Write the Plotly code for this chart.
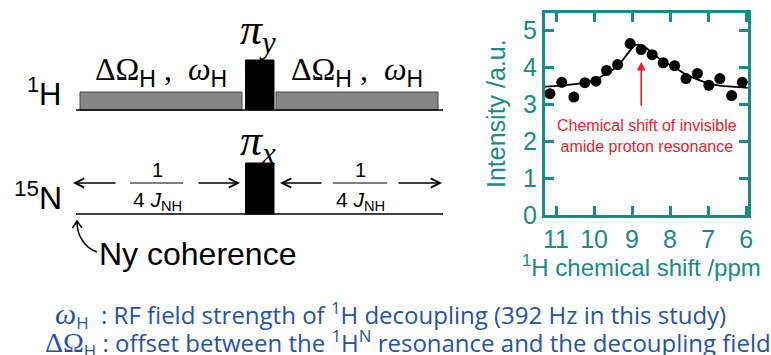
import plotly.graph_objects as go

W, H = 771, 355

# ---- data ----
shift_ppm = [11.16, 10.85, 10.53, 10.24, 9.95, 9.67, 9.38, 9.05, 8.76,
             8.47, 8.18, 7.88, 7.58, 7.28, 6.98, 6.69, 6.38, 6.10]
intensity = [3.29, 3.60, 3.20, 3.59, 3.63, 3.92, 4.08, 4.65, 4.49,
             4.35, 4.13, 4.05, 3.70, 3.84, 3.52, 3.70, 3.24, 3.60]
fit_ppm = [11.29, 10.87, 10.24, 9.95, 9.67, 9.38, 9.10, 8.95, 8.85, 8.70,
           8.45, 8.18, 7.87, 7.58, 7.28, 6.98, 6.69, 6.37, 5.96]
fit_int = [3.48, 3.51, 3.59, 3.68, 3.84, 4.04, 4.40, 4.58, 4.62, 4.58,
           4.38, 4.17, 4.00, 3.81, 3.68, 3.57, 3.51, 3.48, 3.45]
x_ticks = [11, 10, 9, 8, 7, 6]
y_ticks = [0, 1, 2, 3, 4, 5]
peak_ppm = 8.76
arrow_from, arrow_to = 2.92, 4.16
note_text = "Chemical shift of invisible<br>amide proton resonance"

TEAL = "#1a8a85"
RED = "#e8232b"
BLUE = "#2553a2"
SANS = "Liberation Sans, Arial, sans-serif"
SERIF = "Liberation Serif, Times New Roman, serif"


def px(x):
    return x / W


def py(y):
    return 1 - y / H


fig = go.Figure()
fig.add_trace(go.Scatter(x=fit_ppm, y=fit_int, mode="lines",
                         line=dict(color="black", width=1.8, shape="spline"),
                         showlegend=False, hoverinfo="skip"))
fig.add_trace(go.Scatter(x=shift_ppm, y=intensity, mode="markers",
                         marker=dict(color="black", size=11),
                         showlegend=False))

axis_common = dict(showline=True, linecolor=TEAL, linewidth=3, mirror="ticks",
                   ticks="inside", ticklen=9, tickwidth=3, tickcolor=TEAL,
                   showgrid=False, zeroline=False, automargin=False,
                   tickfont=dict(family=SANS, size=25, color=TEAL),
                   fixedrange=True)

fig.update_layout(
    template="none",
    width=W, height=H,
    margin=dict(l=0, r=0, t=0, b=0, autoexpand=False),
    paper_bgcolor="white", plot_bgcolor="white",
    xaxis=dict(domain=[545 / W, 748 / W], range=[11.29, 5.95],
               tickvals=x_ticks, **axis_common),
    yaxis=dict(domain=[1 - 215 / H, 1 - 13 / H], range=[0, 5.48],
               tickvals=y_ticks, **axis_common),
)


def text(x, y, s, size, family=SANS, color="black", xanchor="center",
         angle=0):
    fig.add_annotation(x=px(x), y=py(y), xref="paper", yref="paper", text=s,
                       showarrow=False, xanchor=xanchor, yanchor="middle",
                       textangle=angle,
                       font=dict(family=family, size=size, color=color))


# axis titles
text(641, 266, "<sup>1</sup>H chemical shift /ppm", 24, SANS, TEAL)
text(496, 114, "Intensity /a.u.", 25, SANS, TEAL, angle=-90)

# red arrow + note in the chart
fig.add_annotation(x=peak_ppm, y=arrow_to, ax=peak_ppm, ay=arrow_from,
                   axref="x", ayref="y", xref="x", yref="y", text="",
                   showarrow=True, arrowhead=2, arrowsize=1.1, arrowwidth=1.6,
                   arrowcolor=RED)
fig.add_annotation(x=8.61, y=2.14, xref="x", yref="y", text=note_text,
                   xanchor="center", yanchor="middle",
                   showarrow=False, font=dict(family=SANS, size=16, color=RED))

# ---- pulse sequence diagram (paper coordinates) ----
shapes = []


def line(x0, y0, x1, y1, w=1.5, color="black"):
    shapes.append(dict(type="line", xref="paper", yref="paper",
                       x0=px(x0), y0=py(y0), x1=px(x1), y1=py(y1),
                       line=dict(color=color, width=w)))


def rect(x0, y0, x1, y1, fill, lc="black", lw=1):
    shapes.append(dict(type="rect", xref="paper", yref="paper",
                       x0=px(x0), y0=py(y0), x1=px(x1), y1=py(y1),
                       fillcolor=fill, line=dict(color=lc, width=lw)))


rect(80, 92, 242, 110, "#868686", "#444444", 1)
rect(276, 92, 438, 110, "#868686", "#444444", 1)
rect(245.5, 60, 274, 110, "black", "black", 1)
rect(245.5, 163, 274, 214, "black", "black", 1)
line(76, 110, 443, 110)
line(76, 214, 443, 214)
line(130, 183, 183, 183, 1)
line(333, 183, 387, 183, 1)

curve = "M {} {} C {} {}, {} {}, {} {}".format(
    px(77), py(222), px(77), py(236), px(85), py(248), px(97), py(252))
shapes.append(dict(type="path", xref="paper", yref="paper", path=curve,
                   line=dict(color="black", width=1.5)))
head = "M {} {} L {} {} L {} {}".format(
    px(72.5), py(228), px(77), py(221), px(82), py(228))
shapes.append(dict(type="path", xref="paper", yref="paper", path=head,
                   line=dict(color="black", width=1.5)))

fig.update_layout(shapes=shapes)


def arrow(xh, yh, xt, yt):
    fig.add_annotation(x=px(xh), y=py(yh), xref="paper", yref="paper",
                       ax=xt - xh, ay=yt - yh, text="", showarrow=True,
                       arrowhead=5, arrowsize=1.3, arrowwidth=1.4,
                       arrowcolor="black", standoff=0, startstandoff=0)


text(63, 92, "<sup>1</sup>H", 31, xanchor="right")
text(64, 196, "<sup>15</sup>N", 32, xanchor="right")
hsub = "<sub><span style='font-family:Liberation Sans;font-size:23px'>H</span></sub>"
dw = "ΔΩ" + hsub + " ,  <i>ω</i>" + hsub
text(161, 72, dw, 32, SERIF)
text(357, 72, dw, 32, SERIF)
text(258, 33, "<i>π</i><sub><i>y</i></sub>", 44, SERIF)
text(258, 143, "<i>π</i><sub><i>x</i></sub>", 44, SERIF)
text(157, 170, "1", 20)
text(360, 170, "1", 20)
jnh = "4 <i>J</i><sub>NH</sub>"
text(157, 201, jnh, 21)
text(360, 201, jnh, 21)
arrow(73, 183, 117, 183)
arrow(240, 183, 197, 183)
arrow(280, 183, 323, 183)
arrow(442, 183, 397, 183)
text(198, 254, "Ny coherence", 32)

wsym = "<span style='font-family:Liberation Serif;font-size:30px'><i>ω</i></span>"
dsym = "<span style='font-family:Liberation Serif;font-size:28px'>ΔΩ</span>"
line1 = (wsym + "<sub>H</sub>"
         "  : RF field strength of <sup>1</sup>H decoupling (392 Hz in this study)")
line2 = (dsym + "<sub>H</sub>"
         " : offset between the <sup>1</sup>H<sup>N</sup> resonance and the decoupling field")
text(53, 315, line1, 24, "Open Sans", BLUE, "left")
text(43, 343, line2, 24, "Open Sans", BLUE, "left")

fig.write_html("out.html",
               config={"displayModeBar": False},
               post_script="document.body.style.margin='0px';"
                           "document.body.style.overflow='hidden';")
